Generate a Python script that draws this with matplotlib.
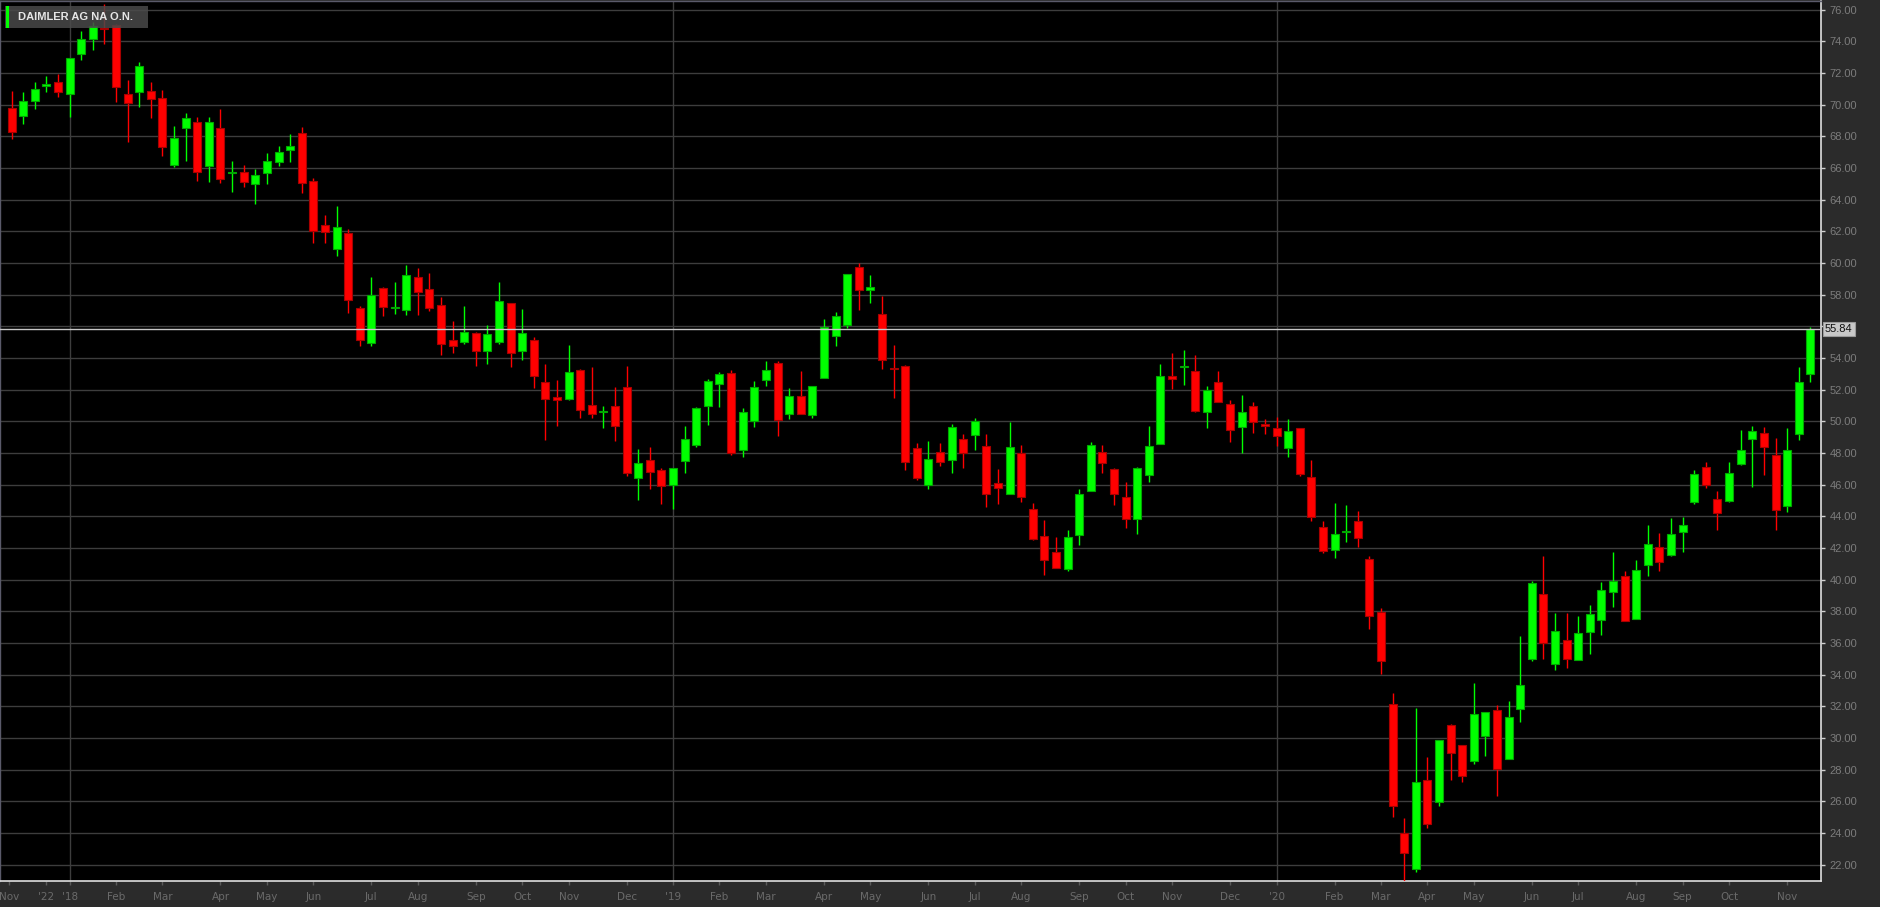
import matplotlib
matplotlib.use("Agg")
import matplotlib.pyplot as plt
from matplotlib.patches import Rectangle

# weekly OHLC (index 0 = first visible week)
opens = [69.80, 69.27, 70.26, 71.20, 71.46, 70.70, 73.21, 74.15, 74.80, 75.03,
         70.66, 70.83, 70.87, 70.41, 66.22, 68.52, 68.92, 66.10, 68.54, 65.66,
         65.74, 64.96, 65.68, 66.39, 67.15, 68.18, 65.15, 62.40, 60.88, 61.91,
         57.16, 54.95, 58.42, 57.18, 57.05, 59.12, 58.36, 57.37, 55.14, 55.03,
         55.58, 54.47, 55.03, 57.47, 54.45, 55.14, 52.49, 51.52, 51.38, 53.27,
         51.06, 50.60, 50.98, 52.17, 46.41, 47.53, 46.94, 45.95, 47.51, 48.49,
         50.96, 52.36, 53.06, 48.16, 49.99, 52.60, 53.67, 50.47, 51.61, 50.41,
         52.76, 55.37, 56.09, 59.72, 58.29, 56.76, 53.34, 53.48, 48.31, 46.00,
         48.09, 47.57, 48.91, 49.12, 48.47, 46.10, 45.38, 47.99, 44.46, 42.77,
         41.76, 40.65, 42.84, 45.57, 48.07, 47.02, 45.24, 43.81, 46.64, 48.58,
         52.87, 53.42, 53.18, 50.58, 52.51, 51.08, 49.61, 50.98, 49.80, 49.57,
         48.33, 49.59, 46.50, 43.30, 41.87, 43.00, 43.68, 41.32, 37.98, 32.17,
         23.99, 21.74, 27.34, 25.97, 30.85, 29.55, 28.52, 30.14, 31.78, 28.64,
         31.82, 34.99, 39.09, 34.70, 36.17, 34.95, 36.67, 37.45, 39.20, 40.23,
         37.52, 40.92, 42.08, 41.55, 43.01, 44.90, 47.10, 45.07, 44.98, 47.32,
         48.91, 49.29, 47.90, 44.65, 49.17, 52.99]
highs = [70.87, 70.81, 71.44, 71.82, 71.96, 72.95, 74.64, 75.25, 76.38, 75.10,
         71.54, 72.70, 71.44, 70.91, 68.64, 69.46, 69.21, 69.21, 69.71, 66.43,
         66.22, 65.93, 66.94, 67.38, 68.14, 68.60, 65.34, 63.03, 63.59, 62.16,
         57.31, 59.14, 58.51, 58.80, 59.89, 59.68, 59.37, 57.85, 56.34, 57.31,
         55.64, 56.11, 58.80, 57.50, 57.10, 55.33, 53.63, 52.62, 54.82, 53.30,
         53.44, 50.98, 52.17, 53.50, 48.26, 48.39, 47.05, 47.05, 49.71, 50.90,
         52.68, 53.10, 53.23, 50.83, 52.55, 53.84, 53.84, 52.11, 53.21, 52.22,
         56.47, 56.91, 59.28, 59.98, 59.24, 57.92, 54.82, 53.56, 48.64, 48.77,
         48.64, 49.86, 49.23, 50.24, 49.17, 46.96, 49.97, 48.52, 44.86, 43.78,
         42.69, 43.15, 45.74, 48.70, 48.52, 47.02, 46.18, 47.13, 49.71, 53.63,
         54.32, 54.51, 54.19, 52.20, 53.18, 51.35, 51.69, 51.19, 50.14, 50.26,
         50.16, 49.59, 47.57, 43.72, 44.86, 44.73, 44.31, 41.47, 38.23, 32.87,
         24.92, 31.92, 28.77, 29.84, 30.91, 29.55, 33.44, 31.67, 32.11, 32.32,
         36.47, 39.89, 41.51, 37.92, 37.92, 37.73, 38.42, 39.87, 41.76, 40.52,
         41.26, 43.43, 42.96, 43.90, 43.94, 46.90, 47.40, 45.60, 47.44, 49.46,
         49.73, 49.67, 48.96, 49.55, 53.41, 55.98]
lows = [67.82, 68.77, 69.71, 70.77, 70.51, 69.25, 72.85, 73.44, 73.86, 70.20,
        67.63, 69.88, 69.15, 66.79, 66.06, 66.45, 65.17, 65.09, 65.05, 64.48,
        64.79, 63.72, 64.98, 66.12, 66.37, 64.41, 61.26, 61.26, 60.44, 56.84,
        54.76, 54.74, 56.65, 56.76, 56.72, 56.72, 56.97, 54.19, 54.32, 54.91,
        53.50, 53.60, 54.91, 53.42, 53.88, 52.11, 48.79, 49.69, 51.35, 50.22,
        50.22, 49.57, 48.77, 46.56, 45.05, 45.74, 44.79, 44.48, 46.71, 48.39,
        49.78, 50.91, 47.88, 47.74, 49.63, 52.24, 49.06, 50.14, 50.49, 50.20,
        52.72, 54.76, 55.90, 57.03, 57.47, 53.31, 51.50, 46.94, 46.27, 45.70,
        47.19, 46.73, 47.06, 48.20, 44.60, 44.80, 45.38, 44.92, 42.52, 40.31,
        40.71, 40.55, 42.21, 45.57, 46.73, 44.73, 43.28, 42.90, 46.18, 48.58,
        52.05, 52.30, 50.60, 49.59, 51.19, 48.70, 47.99, 49.27, 49.21, 48.45,
        47.76, 46.56, 43.72, 41.68, 41.39, 42.37, 42.06, 36.90, 34.07, 24.98,
        20.99, 21.51, 24.29, 25.72, 27.34, 27.23, 28.33, 28.89, 26.31, 28.64,
        31.02, 34.87, 35.01, 34.30, 34.45, 34.90, 35.31, 36.51, 38.27, 37.39,
        37.52, 40.25, 40.57, 41.50, 41.76, 44.80, 45.80, 43.11, 44.90, 47.23,
        45.87, 46.58, 43.11, 44.25, 48.83, 52.51]
closes = [68.26, 70.26, 70.98, 71.30, 70.77, 72.93, 74.13, 74.97, 74.75, 71.14,
          70.09, 72.43, 70.39, 67.34, 67.88, 69.13, 65.74, 68.92, 65.30, 65.70,
          65.09, 65.59, 66.43, 67.00, 67.36, 65.05, 62.02, 61.95, 62.27, 57.66,
          55.12, 58.00, 57.24, 57.22, 59.26, 58.15, 57.18, 54.89, 54.74, 55.67,
          54.47, 55.52, 57.58, 54.32, 55.58, 52.87, 51.38, 51.35, 53.12, 50.74,
          50.47, 50.64, 49.69, 46.73, 47.34, 46.81, 45.91, 47.04, 48.89, 50.85,
          52.53, 53.00, 48.01, 50.58, 52.15, 53.25, 50.07, 51.63, 50.49, 52.22,
          55.96, 56.63, 59.28, 58.27, 58.48, 53.88, 53.28, 47.42, 46.43, 47.59,
          47.42, 49.61, 47.97, 49.99, 45.40, 45.80, 48.37, 45.24, 42.58, 41.26,
          40.71, 42.69, 45.38, 48.52, 47.34, 45.38, 43.81, 47.04, 48.41, 52.87,
          52.70, 53.50, 50.66, 51.99, 51.19, 49.46, 50.62, 49.97, 49.72, 49.06,
          49.42, 46.69, 43.95, 41.81, 42.90, 43.06, 42.61, 37.70, 34.87, 25.68,
          22.71, 27.19, 24.54, 29.84, 29.04, 27.57, 31.54, 31.67, 28.03, 31.33,
          33.37, 39.81, 36.02, 36.74, 35.01, 36.65, 37.83, 39.32, 39.93, 37.39,
          40.59, 42.25, 41.13, 42.86, 43.47, 46.70, 46.00, 44.20, 46.73, 48.16,
          49.38, 48.39, 44.39, 48.16, 52.49, 55.84]

# month labels on the week axis
tick_pos = [-0.2, 3, 5, 9, 13, 18, 22, 26, 31, 35, 40, 44, 48, 53, 57, 61, 65,
            70, 74, 79, 83, 87, 92, 96, 100, 105, 109, 114, 118, 122, 126, 131,
            135, 140, 144, 148, 153]
tick_lbl = ["Nov", "'22", "'18", "Feb", "Mar", "Apr", "May", "Jun", "Jul", "Aug",
            "Sep", "Oct", "Nov", "Dec", "'19", "Feb", "Mar", "Apr", "May", "Jun",
            "Jul", "Aug", "Sep", "Oct", "Nov", "Dec", "'20", "Feb", "Mar", "Apr",
            "May", "Jun", "Jul", "Aug", "Sep", "Oct", "Nov"]
year_pos = [5, 57, 109]
price_ticks = list(range(22, 77, 2))
last_price = 55.84

W, H = 1880, 907
fig = plt.figure(figsize=(W / 100, H / 100), dpi=100, facecolor="#2b2b2b")
ax = fig.add_axes([0, 26 / H, 1821 / W, 1 - 27 / H])
ax.set_facecolor("#000000")

up_col, up_edge = "#00ff00", "#00a800"
dn_col, dn_edge = "#ff0000", "#a80000"

x = list(range(len(opens)))
for i in x:
    o, h, l, c = opens[i], highs[i], lows[i], closes[i]
    up = c >= o
    col = up_col if up else dn_col
    ax.vlines(i, l, h, color=col, linewidth=1.0, zorder=3)
    body = max(abs(c - o), 0.07)
    ax.bar(i, body, bottom=min(o, c), width=0.69, color=col,
           edgecolor=up_edge if up else dn_edge, linewidth=0.8, zorder=4)

ax.set_xlim(-1.0, 155.92)
ax.set_ylim(20.965, 76.549)

# grid
for v in price_ticks:
    ax.axhline(v, color="#3d3d3d", linewidth=1.0, zorder=1)
for v in year_pos:
    ax.axvline(v, color="#3d3d3d", linewidth=1.0, zorder=1)

ax.axhline(last_price, color="#c8c8c8", linewidth=1.0, zorder=5)

# axes styling; the label nearest the last price sits under its box
ax.yaxis.tick_right()
ax.set_yticks(price_ticks)
ax.set_yticklabels(["" if abs(v - last_price) < 1 else f"{v:.2f}" for v in price_ticks])
ax.tick_params(axis="y", color="#d0d0d0", labelsize=8, length=3, width=1,
               pad=3, labelcolor="#7c7c7c")
ax.set_xticks(tick_pos)
ax.set_xticklabels(tick_lbl)
ax.tick_params(axis="x", color="#5a5a5a", length=3, width=1, pad=5,
               labelsize=7.5, labelcolor="#6a6a6a")
for lab in ax.get_xticklabels():
    lab.set_family(["Liberation Sans Narrow", "DejaVu Sans"])
for lab in ax.get_yticklabels():
    lab.set_family(["Liberation Sans", "DejaVu Sans"])

for side in ["right", "bottom"]:
    ax.spines[side].set_color("#e0e0e0")
    ax.spines[side].set_linewidth(1.2)
for side in ["left", "top"]:
    ax.spines[side].set_color("#5a5a6a")
    ax.spines[side].set_linewidth(1.0)

# last price label on the price axis
ax.annotate(f"{last_price:.2f}", xy=(1.0, last_price), xycoords=("axes fraction", "data"),
            xytext=(4, 0), textcoords="offset pixels", ha="left", va="center",
            fontsize=8, color="#101010", family=["Liberation Sans", "DejaVu Sans"],
            bbox=dict(boxstyle="square,pad=0.2", fc="#c8c8c8", ec="#9a9a9a", lw=0.8),
            annotation_clip=False, zorder=10)

# instrument header
fig.patches.append(Rectangle((5 / W, 1 - 28 / H), 143 / W, 22 / H, transform=fig.transFigure,
                             facecolor="#4a4a4a", alpha=0.85, edgecolor="none", zorder=20))
fig.patches.append(Rectangle((6 / W, 1 - 28 / H), 3 / W, 22 / H, transform=fig.transFigure,
                             facecolor="#00ff00", edgecolor="none", zorder=21))
fig.text(18 / W, 1 - 17 / H, "DAIMLER AG NA O.N.", color="#e6e6e6", fontsize=8,
         fontweight="bold", va="center", ha="left", zorder=22,
         family=["Liberation Sans", "DejaVu Sans"])

fig.savefig("out.png", dpi=100, facecolor=fig.get_facecolor())
